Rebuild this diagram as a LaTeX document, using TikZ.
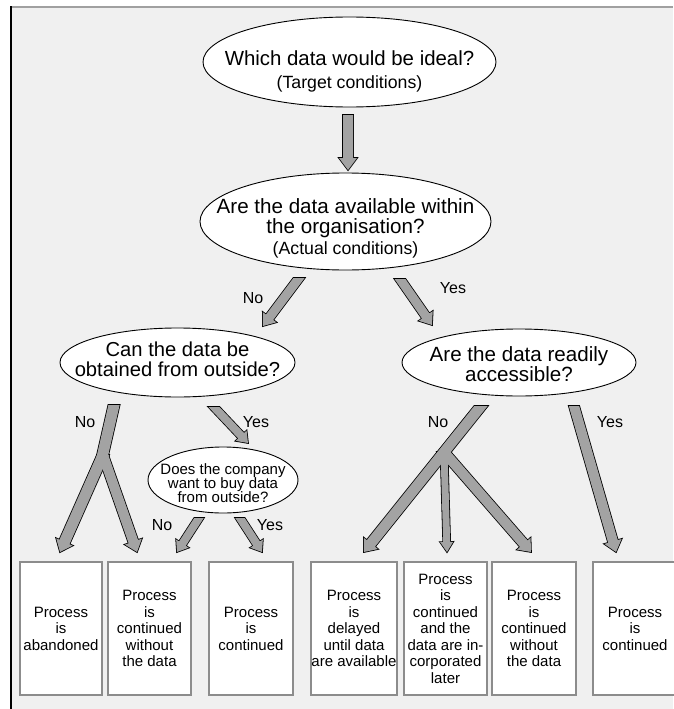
\documentclass[tikz,border=0pt]{standalone}
\usepackage{fontspec}
\setmainfont{Liberation Sans}
\usetikzlibrary{shapes.geometric,calc}

\definecolor{panelbg}{HTML}{F0F0F0}
\definecolor{arrowfill}{HTML}{A3A3A3}
\definecolor{boxline}{HTML}{8C8C8C}
\definecolor{framegray}{HTML}{A0A0A0}

% Block arrow outline: horizontal cut at the start, triangular head at the end.
% #1 start, #2 tip, #3 shaft width, #4 head width, #5 head length (all in pt)
\newcommand\fatarrow[5]{%
  let \p1=(#1), \p2=(#2), \n1={atan2(\y2-\y1,\x2-\x1)},
      \n2={sin(\n1)}, \n3={cos(\n1)} in
  ({\x1-(#3)/2/(\n2)},\y1)
  -- ({\x2-(#5)*(\n3)-(#3)/2*(\n2)},{\y2-(#5)*(\n2)+(#3)/2*(\n3)})
  -- ({\x2-(#5)*(\n3)-(#4)/2*(\n2)},{\y2-(#5)*(\n2)+(#4)/2*(\n3)})
  -- (\p2)
  -- ({\x2-(#5)*(\n3)+(#4)/2*(\n2)},{\y2-(#5)*(\n2)-(#4)/2*(\n3)})
  -- ({\x2-(#5)*(\n3)+(#3)/2*(\n2)},{\y2-(#5)*(\n2)-(#3)/2*(\n3)})
  -- ({\x1+(#3)/2/(\n2)},\y1) -- cycle}

% start/end/shaft/head width/head length
\newcommand\arrowlist{%
  q1-out/q2-in/10/18/12,
  q2-no/q3-in/9/17/11,
  q2-yes/q4-in/9/17/11,
  q3-no/q3-bend/11/11/0,
  q3-fork/r1-in/11/18/11,
  q3-fork/r2-ina/10/18/11,
  q3-yes/q5-in/8/15/10,
  q5-no/r2-inb/8/15/10,
  q5-yes/r3-in/8/15/10,
  q4-no/r4-in/10.5/18/11,
  q4-fork/r5-in/7/13/10,
  q4-fork/r6-in/10/18/11,
  q4-yes/r7-in/10/18/11}

\begin{document}
\begin{tikzpicture}[x=1pt,y=-1pt,
  bubble/.style={ellipse, draw=black, fill=white, line width=0.9pt, inner sep=0pt},
  question/.style={align=center, inner sep=0pt, font=\fontsize{20.6}{20.5}\selectfont},
  outcome/.style={rectangle, draw=boxline, fill=white, line width=1.4pt,
    minimum height=133pt, inner sep=0pt, align=center,
    font=\fontsize{15}{16.5}\selectfont},
  answer/.style={inner sep=0pt, font=\fontsize{16}{18}\selectfont},
  arrowrim/.style={draw=black, line width=1.6pt, line join=miter},
  arrowbody/.style={fill=arrowfill}]

\useasboundingbox (0,0) rectangle (673,709);
\fill[white] (0,0) rectangle (673,709);
\fill[panelbg] (11,7) rectangle (673,709);
\draw[framegray, line width=1.5pt] (11,7) -- (673,7);
\draw[black, line width=2pt] (11,6.25) -- (11,709);

% questions
\node[bubble, minimum width=293pt, minimum height=90pt] (q1) at (349.5,62) {};
\node[question, font=\fontsize{20.4}{23}\selectfont] (q1text) at (349.5,71)
  {Which data would be ideal?\\{\fontsize{17.7}{23}\selectfont (Target conditions)}};

\node[bubble, minimum width=291pt, minimum height=97pt] (q2) at (345.5,221.5) {};
\node[question] (q2text) at (345.5,228)
  {Are the data available within\\the organisation?\\{\fontsize{17.7}{20.5}\selectfont (Actual conditions)}};

\node[bubble, minimum width=235pt, minimum height=69pt] (q3) at (177.5,362.5) {};
\node[question, font=\fontsize{20.2}{19.5}\selectfont] (q3text) at (177.5,359.5)
  {Can the data be\\obtained from outside?};

\node[bubble, minimum width=234pt, minimum height=67pt] (q4) at (519,362.5) {};
\node[question, font=\fontsize{20.6}{20}\selectfont] (q4text) at (519,364.5)
  {Are the data readily\\accessible?};

\node[bubble, minimum width=150pt, minimum height=66pt] (q5) at (223,480) {};
\node[question, font=\fontsize{15}{14}\selectfont] (q5text) at (223,483.5)
  {Does the company\\want to buy data\\from outside?};

% outcomes
\node[outcome, minimum width=82pt] (r1) at (61,628.5) {Process\\is\\abandoned};
\node[outcome, minimum width=83pt] (r2) at (149.5,628.5) {Process\\is\\continued\\without\\the data};
\node[outcome, minimum width=84pt] (r3) at (251,628.5) {Process\\is\\continued};
\node[outcome, minimum width=86pt] (r4) at (354,628.5) {Process\\is\\delayed\\until data\\are available};
\node[outcome, minimum width=83pt] (r5) at (445.5,628.5) {Process\\is\\continued\\and the\\data are in-\\corporated\\later};
\node[outcome, minimum width=84pt] (r6) at (534,628.5) {Process\\is\\continued\\without\\the data};
\node[outcome, minimum width=84pt] (r7) at (635,628.5) {Process\\is\\continued};

% arrow end points
\coordinate (q1-out) at (348,115);
\coordinate (q2-in)  at (348,170);
\coordinate (q2-no)  at (299,278);
\coordinate (q3-in)  at (263,326);
\coordinate (q2-yes) at (400,279);
\coordinate (q4-in)  at (432,325);
\coordinate (q3-no)  at (114,405);
\coordinate (q3-bend) at (101,462);
\coordinate (q3-fork) at (103,455);
\coordinate (r1-in)  at (60,552);
\coordinate (r2-ina) at (137,552);
\coordinate (q3-yes) at (214,407);
\coordinate (q5-in)  at (248,443);
\coordinate (q5-no)  at (199,518);
\coordinate (r2-inb) at (177,552);
\coordinate (q5-yes) at (240,518);
\coordinate (r3-in)  at (262,552);
\coordinate (q4-no)  at (481,406);
\coordinate (r4-in)  at (364,552);
\coordinate (q4-fork) at (444,452);
\coordinate (r5-in)  at (447,552);
\coordinate (r6-in)  at (531,552);
\coordinate (q4-yes) at (574,406);
\coordinate (r7-in)  at (616,552);

% block arrows: outlines first, then the bodies so that branches merge
\foreach \s/\e/\w/\hw/\hl in \arrowlist
  \path[arrowrim] \fatarrow{\s}{\e}{\w}{\hw}{\hl};
\foreach \s/\e/\w/\hw/\hl in \arrowlist
  \path[arrowbody] \fatarrow{\s}{\e}{\w}{\hw}{\hl};

% answers on the branches
\node[answer] (a1) at (253,298) {No};
\node[answer] (a2) at (453,288) {Yes};
\node[answer] (a3) at (85,422) {No};
\node[answer] (a4) at (256,422) {Yes};
\node[answer] (a5) at (162,525) {No};
\node[answer] (a6) at (270,525) {Yes};
\node[answer] (a7) at (438,422) {No};
\node[answer] (a8) at (610,422) {Yes};
\end{tikzpicture}
\end{document}
